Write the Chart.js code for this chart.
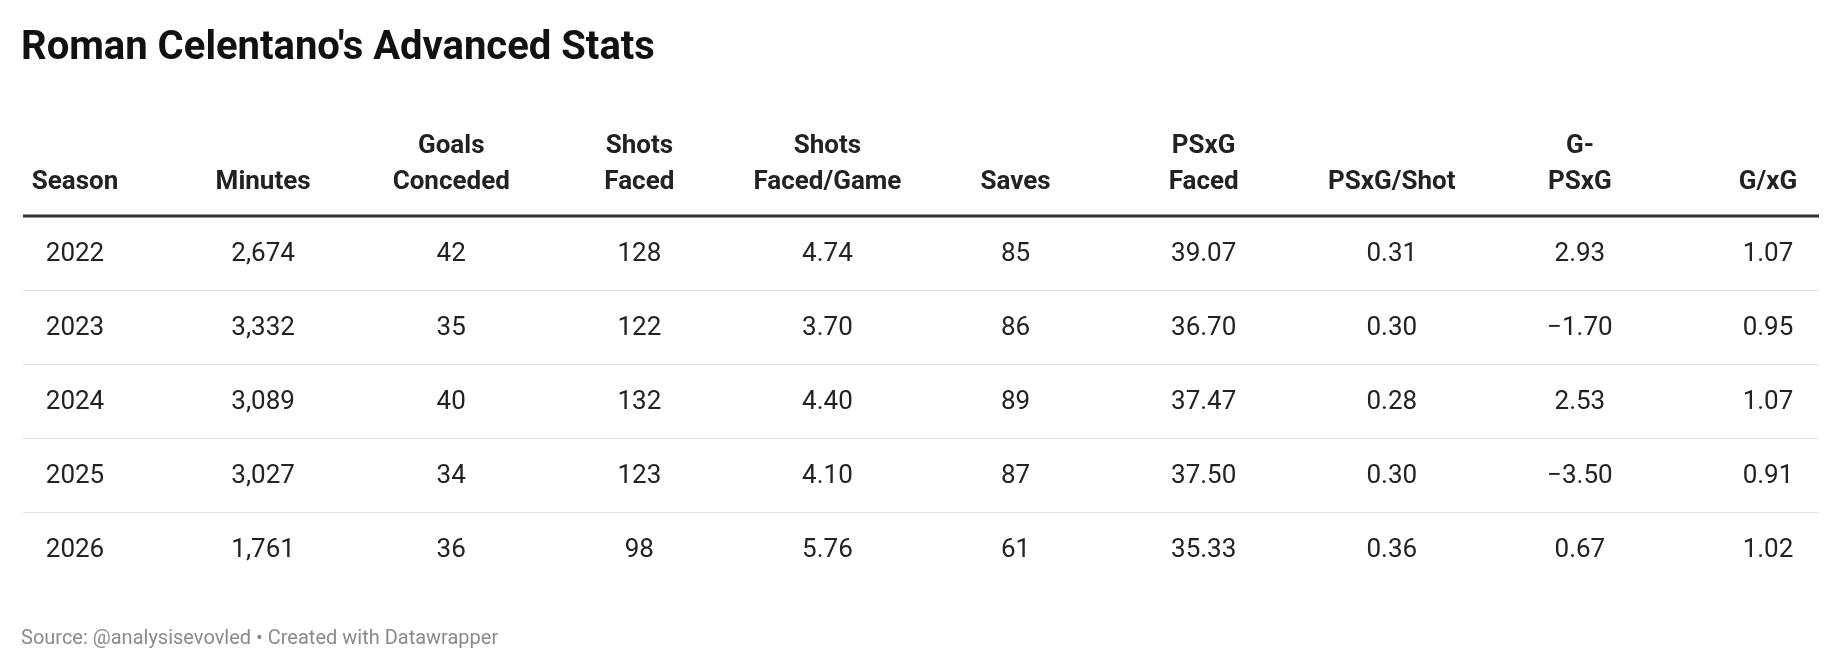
<!DOCTYPE html>
<html lang="en">
<head>
<meta charset="UTF-8" />
<script src="https://cdn.jsdelivr.net/npm/chart.js"></script>
<title>Roman Celentano's Advanced Stats</title>
<style>
  html, body { margin: 0; padding: 0; background: #fff; }
  .wrap { width: 1840px; height: 672px; }
</style>
</head>
<body>
<div class="wrap"><canvas id="myChart" width="1840" height="672"></canvas></div>
<script>
var headers = [["Season"], ["Minutes"], ["Goals", "Conceded"], ["Shots", "Faced"], ["Shots", "Faced/Game"],
  ["Saves"], ["PSxG", "Faced"], ["PSxG/Shot"], ["G-", "PSxG"], ["G/xG"]];
var seasons = ["2022", "2023", "2024", "2025", "2026"];
var minutes = ["2,674", "3,332", "3,089", "3,027", "1,761"];
var goalsConceded = ["42", "35", "40", "34", "36"];
var shotsFaced = ["128", "122", "132", "123", "98"];
var shotsPerGame = ["4.74", "3.70", "4.40", "4.10", "5.76"];
var saves = ["85", "86", "89", "87", "61"];
var psxgFaced = ["39.07", "36.70", "37.47", "37.50", "35.33"];
var psxgPerShot = ["0.31", "0.30", "0.28", "0.30", "0.36"];
var gMinusPsxg = ["2.93", "\u22121.70", "2.53", "\u22123.50", "0.67"];
var gPerXg = ["1.07", "0.95", "1.07", "0.91", "1.02"];

var columns = [seasons, minutes, goalsConceded, shotsFaced, shotsPerGame, saves, psxgFaced, psxgPerShot, gMinusPsxg, gPerXg];
var colKeys = headers.map(function (h) { return h.join(" "); });

var FONT = "Roboto, 'Noto Sans', sans-serif";

var tablePlugin = {
  id: "tablePlugin",
  afterDraw: function (chart) {
    var ctx = chart.ctx;
    var x = chart.scales.x, y = chart.scales.y;
    var left = 23, right = 1819;
    ctx.save();
    // title
    ctx.fillStyle = "#111";
    ctx.font = "bold 40px " + FONT;
    ctx.textAlign = "left";
    ctx.textBaseline = "alphabetic";
    ctx.fillText("Roman Celentano's Advanced Stats", 21, 59);

    // headers
    ctx.font = "bold 26px " + FONT;
    ctx.textAlign = "center";
    ctx.fillStyle = "#222";
    headers.forEach(function (h, i) {
      var px = x.getPixelForValue(i);
      for (var k = 0; k < h.length; k++) {
        ctx.fillText(h[h.length - 1 - k], px, 189 - k * 36);
      }
    });

    // thick line under header
    ctx.strokeStyle = "#333";
    ctx.lineWidth = 3;
    ctx.beginPath(); ctx.moveTo(left, 216); ctx.lineTo(right, 216); ctx.stroke();

    // separators
    ctx.strokeStyle = "#e3e3e3";
    ctx.lineWidth = 1;
    for (var r = 0; r < seasons.length - 1; r++) {
      var yy = Math.round((y.getPixelForValue(r) + y.getPixelForValue(r + 1)) / 2) + 0.5;
      ctx.beginPath(); ctx.moveTo(left, yy); ctx.lineTo(right, yy); ctx.stroke();
    }

    // cells
    ctx.font = "26px " + FONT;
    ctx.fillStyle = "#222";
    ctx.textBaseline = "middle";
    columns.forEach(function (col, i) {
      var px = x.getPixelForValue(i);
      col.forEach(function (v, r) {
        ctx.fillText(v, px, y.getPixelForValue(r) + 1);
      });
    });

    // source
    ctx.font = "20px " + FONT;
    ctx.fillStyle = "#8a8a8a";
    ctx.textAlign = "left";
    ctx.fillText("Source: @analysisevovled \u2022 Created with Datawrapper", 21, 639);
    ctx.restore();
  }
};

new Chart(document.getElementById("myChart"), {
  type: "line",
  data: {
    labels: colKeys,
    datasets: [{ data: colKeys.map(function () { return null; }), showLine: false, pointRadius: 0 }]
  },
  options: {
    responsive: false,
    animation: false,
    layout: { padding: { top: 216, bottom: 86, left: 75, right: 72 } },
    plugins: { legend: { display: false }, tooltip: { enabled: false } },
    scales: {
      x: { type: "category", labels: colKeys, offset: false, display: false },
      y: { type: "category", labels: seasons, offset: true, display: false }
    }
  },
  plugins: [tablePlugin]
});
</script>
</body>
</html>
